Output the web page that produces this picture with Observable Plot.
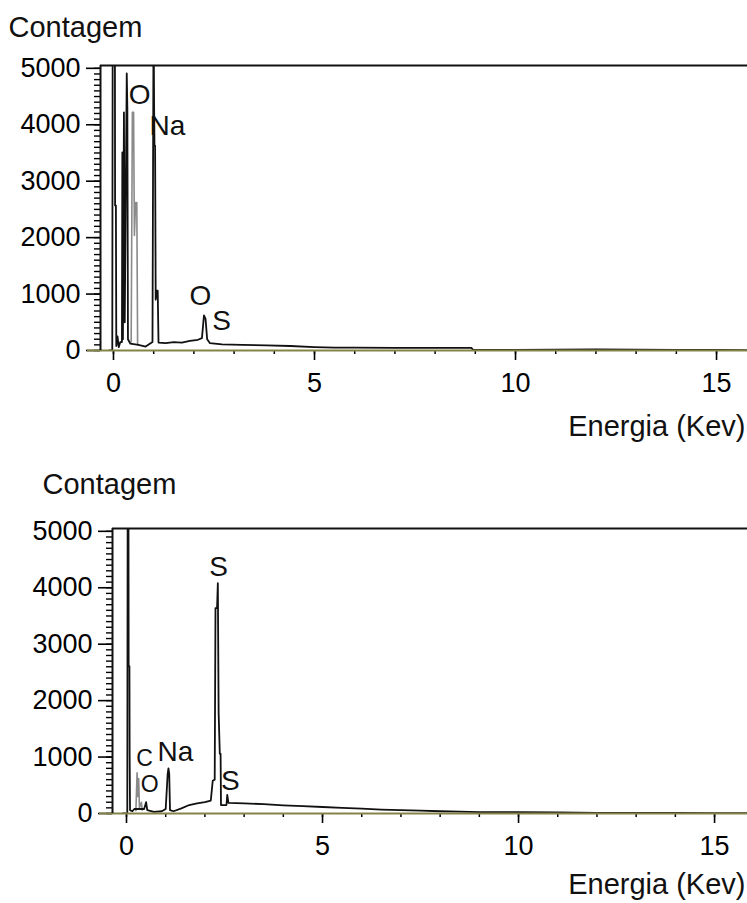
<!DOCTYPE html>
<html>
<head>
<meta charset="utf-8">
<script src="https://cdn.jsdelivr.net/npm/d3@7"></script>
<script src="https://cdn.jsdelivr.net/npm/@observablehq/plot@0.6"></script>
<style>
  body { margin: 0; background: #fff; }
  #chart { width: 747px; }
  #chart svg { display: block; }
</style>
</head>
<body>
<div id="chart"></div>
<script>
// EDS spectra: counts (Contagem) against energy (keV)

// Upper spectrum, main trace
const topKeV = [-0.1, -0.03, -0.02, 0.035, 0.04, 0.06, 0.07, 0.1, 0.13, 0.17, 0.21, 0.22, 0.235, 0.26, 0.28, 0.33, 0.345, 0.36, 0.42, 0.62, 0.8, 0.97, 0.995, 1.0, 1.01, 1.02, 1.035, 1.05, 1.08, 1.1, 1.12, 1.3, 1.5, 1.7, 1.9, 2.1, 2.2, 2.25, 2.29, 2.33, 2.4, 2.7, 3.2, 3.8, 4.4, 5.0, 5.5, 6.0, 7.0, 8.0, 8.9, 8.95, 10, 11, 12, 13, 14, 15, 15.8];
const topCounts = [0, 0, 5600, 5600, 2570, 2570, 80, 250, 60, 150, 150, 3510, 200, 4220, 500, 4910, 4300, 200, 120, 100, 70, 150, 5600, 5600, 4380, 3630, 3630, 900, 1060, 1060, 140, 130, 150, 140, 170, 190, 220, 620, 560, 200, 130, 110, 100, 90, 80, 60, 50, 50, 45, 45, 45, 10, 12, 15, 20, 15, 10, 10, 8];
// Upper spectrum, lighter trace
const topGrayKeV = [0.44, 0.47, 0.5, 0.52, 0.55, 0.58, 0.6];
const topGrayCounts = [150, 4220, 4220, 2040, 2620, 2620, 100];

// Lower spectrum, main trace
const bottomKeV = [-0.1, 0.02, 0.03, 0.05, 0.055, 0.075, 0.08, 0.09, 0.15, 0.2, 0.45, 0.5, 0.53, 0.7, 0.9, 1.0, 1.05, 1.07, 1.09, 1.11, 1.2, 1.4, 1.6, 1.8, 2.0, 2.15, 2.2, 2.25, 2.27, 2.31, 2.33, 2.35, 2.38, 2.4, 2.41, 2.55, 2.57, 2.6, 3.0, 3.5, 4.0, 4.5, 5.0, 5.5, 6.0, 6.5, 7.0, 7.5, 8.0, 8.5, 9.0, 10, 11, 12, 13, 14, 15, 15.9];
const bottomCounts = [0, 0, 5600, 5600, 2610, 2610, 1080, 60, 40, 80, 80, 200, 60, 30, 40, 80, 700, 800, 700, 60, 40, 90, 150, 180, 200, 230, 580, 600, 3640, 3640, 4080, 1780, 1060, 1060, 150, 150, 330, 190, 180, 165, 145, 130, 115, 100, 85, 70, 60, 50, 40, 35, 25, 22, 18, 12, 10, 10, 8, 6];
// Lower spectrum, lighter trace
const bottomGrayKeV = [0.24, 0.27, 0.29, 0.31, 0.33, 0.38, 0.4];
const bottomGrayCounts = [50, 720, 300, 620, 100, 200, 60];

// Element labels
const topPeakNames = ["O", "Na", "O", "S"];
const topPeakKeV = [0.65, 1.34, 2.16, 2.69];
const topPeakCounts = [4520, 3970, 960, 530];

const bottomPeakNames = ["S", "C", "Na", "O", "S"];
const bottomPeakKeV = [2.35, 0.46, 1.25, 0.59, 2.65];
const bottomPeakCounts = [4360, 980, 1095, 520, 580];

// Axis ticks
const countTicks = [0, 1000, 2000, 3000, 4000, 5000];
const countMinorTicks = d3.range(0, 5001, 100);
const energyTicks = [0, 5, 10, 15];
const energyMinorTicks = d3.range(0, 16, 1);

const yLabel = "Contagem";
const xLabel = "Energia (Kev)";

const olive = "#83834a";
const font = "'Liberation Sans', Arial, Helvetica, sans-serif";

function zipSeries(keV, counts) {
  return keV.map((e, i) => ({energy: e, count: counts[i]}));
}

function spectrumPlot(cfg) {
  const yMax = 5050;
  const main = zipSeries(cfg.keV, cfg.counts);
  const gray = zipSeries(cfg.grayKeV, cfg.grayCounts);
  const peaks = cfg.peakNames.map((n, i) => ({name: n, energy: cfg.peakKeV[i], count: cfg.peakCounts[i]}));
  const isSmall = (d) => cfg.smallLabels.includes(d.name);
  return Plot.plot({
    width: 747,
    height: cfg.height,
    marginLeft: cfg.marginLeft,
    marginRight: 0,
    marginTop: cfg.marginTop,
    marginBottom: cfg.marginBottom,
    style: {fontFamily: font, fontSize: "27px", background: "#fff", color: "#000", overflow: "visible"},
    x: {domain: cfg.xDomain, axis: null},
    y: {domain: [0, yMax], axis: null},
    marks: [
      // spectrum traces
      Plot.line(gray, {x: "energy", y: "count", stroke: "#8a8a8a", strokeWidth: 1.6, clip: true}),
      Plot.line(main, {x: "energy", y: "count", stroke: "#111", strokeWidth: 1.8, clip: true}),
      // axes
      Plot.axisY({ticks: countMinorTicks, tickSize: 6, text: null, label: null, strokeWidth: 1.4}),
      Plot.axisY({ticks: countTicks, tickSize: 14, tickPadding: 6, label: null, strokeWidth: 1.6, tickFormat: d => String(d)}),
      Plot.axisY({ticks: [0], tickSize: 13, text: null, label: null, stroke: olive, strokeWidth: 2}),
      Plot.axisX({ticks: energyMinorTicks, tickSize: 4, text: null, label: null, strokeWidth: 1.5}),
      Plot.axisX({ticks: energyTicks, tickSize: 10, tickPadding: 12, label: null, strokeWidth: 1.6, tickFormat: d => String(d)}),
      Plot.ruleY([0], {stroke: olive, strokeWidth: 2}),
      Plot.ruleX([cfg.xDomain[0]], {stroke: "#111", strokeWidth: 2}),
      Plot.ruleY([yMax], {stroke: "#111", strokeWidth: 2}),
      // element labels
      Plot.text(peaks.filter(d => !isSmall(d)), {x: "energy", y: "count", text: "name", fontSize: 28, textAnchor: "middle", lineAnchor: "middle", fill: "#111"}),
      Plot.text(peaks.filter(isSmall), {x: "energy", y: "count", text: "name", fontSize: 23, textAnchor: "middle", lineAnchor: "middle", fill: "#111"}),
      // axis titles
      Plot.text([yLabel], {frameAnchor: "top-left", textAnchor: "start", lineAnchor: "middle", dx: cfg.yLabelDx, dy: cfg.yLabelDy, fontSize: 29, fill: "#111"}),
      Plot.text([xLabel], {frameAnchor: "bottom-right", textAnchor: "end", lineAnchor: "middle", dx: -2, dy: cfg.xLabelDy, fontSize: 29, fill: "#111"})
    ]
  });
}

const upperChart = spectrumPlot({
  keV: topKeV, counts: topCounts, grayKeV: topGrayKeV, grayCounts: topGrayCounts,
  peakNames: topPeakNames, peakKeV: topPeakKeV, peakCounts: topPeakCounts, smallLabels: [],
  xDomain: [-0.323, 15.77],
  height: 445, marginLeft: 100, marginTop: 65, marginBottom: 95,
  yLabelDx: -92, yLabelDy: -38, xLabelDy: 76
});

const lowerChart = spectrumPlot({
  keV: bottomKeV, counts: bottomCounts, grayKeV: bottomGrayKeV, grayCounts: bottomGrayCounts,
  peakNames: bottomPeakNames, peakKeV: bottomPeakKeV, peakCounts: bottomPeakCounts, smallLabels: ["C", "O"],
  xDomain: [-0.357, 15.84],
  height: 458, marginLeft: 112, marginTop: 83, marginBottom: 90,
  yLabelDx: -70, yLabelDy: -44, xLabelDy: 71
});

document.getElementById("chart").append(upperChart, lowerChart);
</script>
</body>
</html>
